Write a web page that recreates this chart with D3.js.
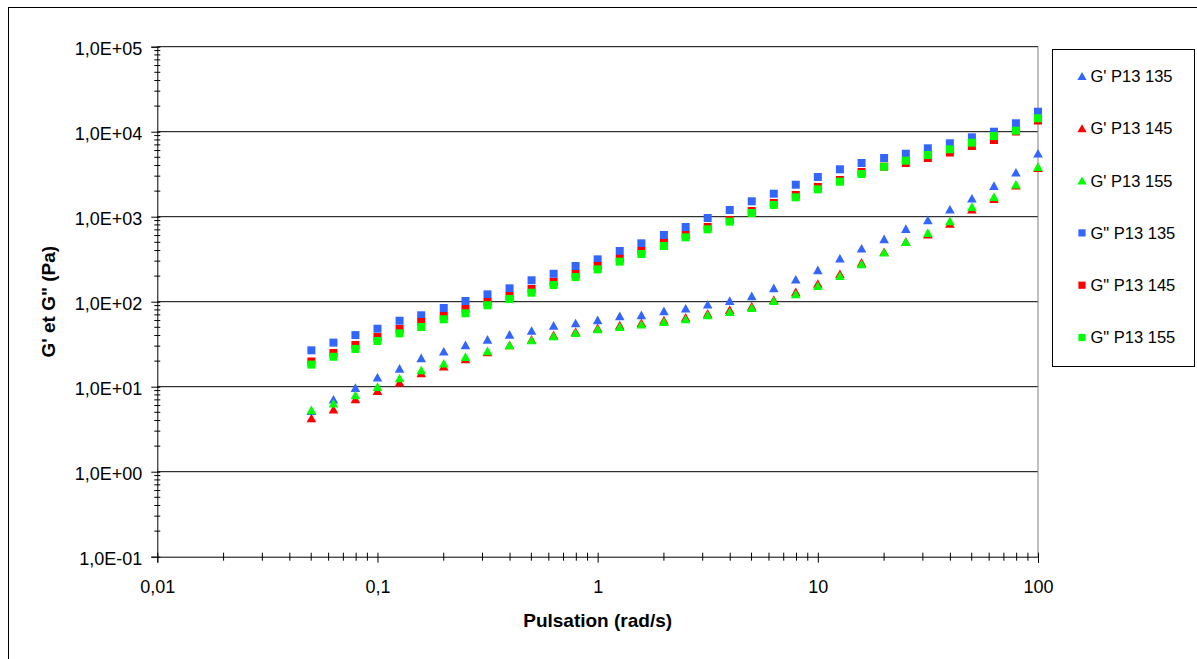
<!DOCTYPE html>
<html><head><meta charset="utf-8">
<script src="https://cdn.jsdelivr.net/npm/d3@7"></script>
<style>html,body{margin:0;padding:0;background:#fff;}svg{display:block;}</style>
</head><body>
<script>
// ---- data ----
const pulsation = [0.0501, 0.0631, 0.0794, 0.1, 0.126, 0.158, 0.2, 0.251, 0.316, 0.398, 0.501, 0.631, 0.794, 1, 1.26, 1.58, 2, 2.51, 3.16, 3.98, 5.01, 6.31, 7.94, 10, 12.6, 15.8, 20, 25.1, 31.6, 39.8, 50.1, 63.1, 79.4, 100];
const gp135 = [5.2, 7.11, 9.73, 12.9, 16.4, 21.8, 26.1, 31.0, 35.9, 41.1, 45.8, 52.5, 56.1, 60.9, 67.9, 69.8, 77.8, 83.6, 93.2, 102.8, 116.7, 145, 183.5, 236, 324, 425, 547, 722, 914, 1222, 1645, 2316, 3327, 5570];
const gp145 = [4.28, 5.42, 7.16, 8.97, 11.3, 14.5, 17.4, 21.1, 25.6, 31.0, 35.9, 40.6, 44.4, 49.1, 52.9, 56.5, 60.6, 65.2, 72.6, 80.5, 88.5, 105.6, 130, 163, 213, 289, 386, 508, 622, 832, 1225, 1628, 2340, 3770];
const gp155 = [5.32, 6.38, 7.98, 10.0, 12.6, 15.7, 18.8, 22.5, 26.3, 31.0, 35.4, 39.5, 43.2, 47.7, 50.8, 54.2, 58.2, 62.5, 69.8, 76.3, 85.0, 102.8, 123.2, 154, 202, 278, 381, 508, 648, 890, 1312, 1718, 2404, 3875];
const gpp135 = [26.8, 33.0, 40.5, 48.1, 59.7, 69.2, 84.3, 101.9, 122, 143.7, 178.6, 213, 263, 315, 395, 486, 609, 756, 966, 1199, 1518, 1865, 2378, 2931, 3611, 4285, 4906, 5510, 6380, 7306, 8590, 10000, 12560, 17180];
const gpp145 = [19.8, 24.9, 31.0, 38.4, 47.7, 57.7, 67.9, 82.0, 99.1, 116.7, 141, 171, 212, 263, 320, 395, 491, 609, 756, 914, 1167, 1449, 1800, 2235, 2702, 3357, 3875, 4285, 4906, 5689, 6792, 7986, 10050, 13540];
const gpp155 = [18.2, 22.5, 27.8, 34.5, 42.5, 50.4, 62.1, 73.1, 90.7, 107.6, 127.6, 157, 195, 240, 296, 364, 452, 572, 711, 873, 1106, 1373, 1691, 2100, 2581, 3178, 3875, 4560, 5318, 6209, 7425, 8898, 10280, 14380];
const seriesNames = ["G' P13 135", "G' P13 145", "G' P13 155", "G\" P13 135", "G\" P13 145", "G\" P13 155"];
const seriesValues = [gp135, gp145, gp155, gpp135, gpp145, gpp155];
const seriesShapes = ["tri", "tri", "tri", "sq", "sq", "sq"];
const seriesColors = ["#3366FF", "#FF0000", "#00FF00", "#3366FF", "#FF0000", "#00FF00"];
const xTicks = [0.01, 0.1, 1, 10, 100];
const xTickLabels = ["0,01", "0,1", "1", "10", "100"];
const yTicks = [0.1, 1, 10, 100, 1000, 10000, 100000];
const yTickLabels = ["1,0E-01", "1,0E+00", "1,0E+01", "1,0E+02", "1,0E+03", "1,0E+04", "1,0E+05"];
const xTitle = "Pulsation (rad/s)";
const yTitle = "G' et G\" (Pa)";

// ---- layout ----
const W = 1197, H = 659;
const L = 157.3, R = 1038, T = 46.7, B = 556.7;
const font = "'Liberation Sans', Arial, Helvetica, sans-serif";

const svg = d3.select("body").append("svg").attr("width", W).attr("height", H);
svg.append("rect").attr("width", W).attr("height", H).attr("fill", "#fff");
// outer chart frame (only top/left visible)
svg.append("rect").attr("x", 8.5).attr("y", 7.5).attr("width", 1300).attr("height", 800)
  .attr("fill", "none").attr("stroke", "#000").attr("stroke-width", 1);

const x = d3.scaleLog().domain([0.01, 100]).range([L, R]);
const y = d3.scaleLog().domain([0.1, 100000]).range([B, T]);

// gridlines
svg.append("g").selectAll("line").data(yTicks.slice(1)).join("line")
  .attr("x1", L).attr("x2", R).attr("y1", d => y(d)).attr("y2", d => y(d))
  .attr("stroke", "#000").attr("stroke-width", 1);
// right border of plot area
svg.append("line").attr("x1", R).attr("x2", R).attr("y1", T).attr("y2", B)
  .attr("stroke", "#808080").attr("stroke-width", 1);

// minor ticks values
const minorX = [], minorY = [];
xTicks.slice(0, -1).forEach(d => { for (let m = 2; m <= 9; m++) minorX.push(d * m); });
yTicks.slice(0, -1).forEach(d => { for (let m = 2; m <= 9; m++) minorY.push(d * m); });

// Y axis
const yAxis = d3.axisLeft(y).tickValues(yTicks).tickFormat((d, i) => yTickLabels[i]).tickSize(6).tickPadding(9);
const gy = svg.append("g").attr("transform", `translate(${L},0)`).call(yAxis);
gy.select(".domain").attr("stroke", "#000");
gy.selectAll(".tick line").attr("stroke", "#000").attr("x2", -6).attr("x1", 3);
gy.selectAll(".tick text").attr("font-family", font).attr("font-size", 18).attr("fill", "#000").attr("dy", "0.45em");
svg.append("g").selectAll("line").data(minorY).join("line")
  .attr("x1", L - 3).attr("x2", L + 3).attr("y1", d => y(d)).attr("y2", d => y(d))
  .attr("stroke", "#000");

// X axis
const xAxis = d3.axisBottom(x).tickValues(xTicks).tickFormat((d, i) => xTickLabels[i]).tickSize(6).tickPadding(18);
const gx = svg.append("g").attr("transform", `translate(0,${B})`).call(xAxis);
gx.select(".domain").attr("stroke", "#000");
gx.selectAll(".tick line").attr("stroke", "#000").attr("y1", -4).attr("y2", 6);
gx.selectAll(".tick text").attr("font-family", font).attr("font-size", 18).attr("fill", "#000");
svg.append("g").selectAll("line").data(minorX).join("line")
  .attr("y1", B - 4).attr("y2", B + 4).attr("x1", d => x(d)).attr("x2", d => x(d))
  .attr("stroke", "#000");

// axis titles
svg.append("text").attr("x", (L + R) / 2).attr("y", 627).attr("text-anchor", "middle")
  .attr("font-family", font).attr("font-weight", "bold").attr("font-size", 19).text(xTitle);
svg.append("text").attr("transform", `translate(55,${(T + B) / 2}) rotate(-90)`).attr("text-anchor", "middle")
  .attr("font-family", font).attr("font-weight", "bold").attr("font-size", 19).text(yTitle);

// markers
function markerPath(shape) {
  if (shape === "tri") return "M0,-4.4L4.8,4.2L-4.8,4.2Z";
  return "M-4,-4L4,-4L4,4L-4,4Z";
}
seriesValues.forEach((vals, s) => {
  svg.append("g").selectAll("path").data(vals).join("path")
    .attr("d", markerPath(seriesShapes[s]))
    .attr("transform", (d, i) => `translate(${x(pulsation[i])},${y(d)})`)
    .attr("fill", seriesColors[s]);
});

// legend
const lg = svg.append("g");
lg.append("rect").attr("x", 1052.5).attr("y", 49.5).attr("width", 142).attr("height", 317)
  .attr("fill", "#fff").attr("stroke", "#000").attr("stroke-width", 1);
seriesNames.forEach((name, s) => {
  const ly = 76 + s * 52.3;
  lg.append("path").attr("d", seriesShapes[s] === "tri" ? "M0,-4L4.6,4L-4.6,4Z" : "M-3.6,-3.6L3.6,-3.6L3.6,3.6L-3.6,3.6Z")
    .attr("transform", `translate(1082,${ly})`).attr("fill", seriesColors[s]);
  lg.append("text").attr("x", 1090.5).attr("y", ly).attr("dy", "0.36em")
    .attr("font-family", font).attr("font-size", 16.5).attr("fill", "#000").text(name);
});
</script>
</body></html>
